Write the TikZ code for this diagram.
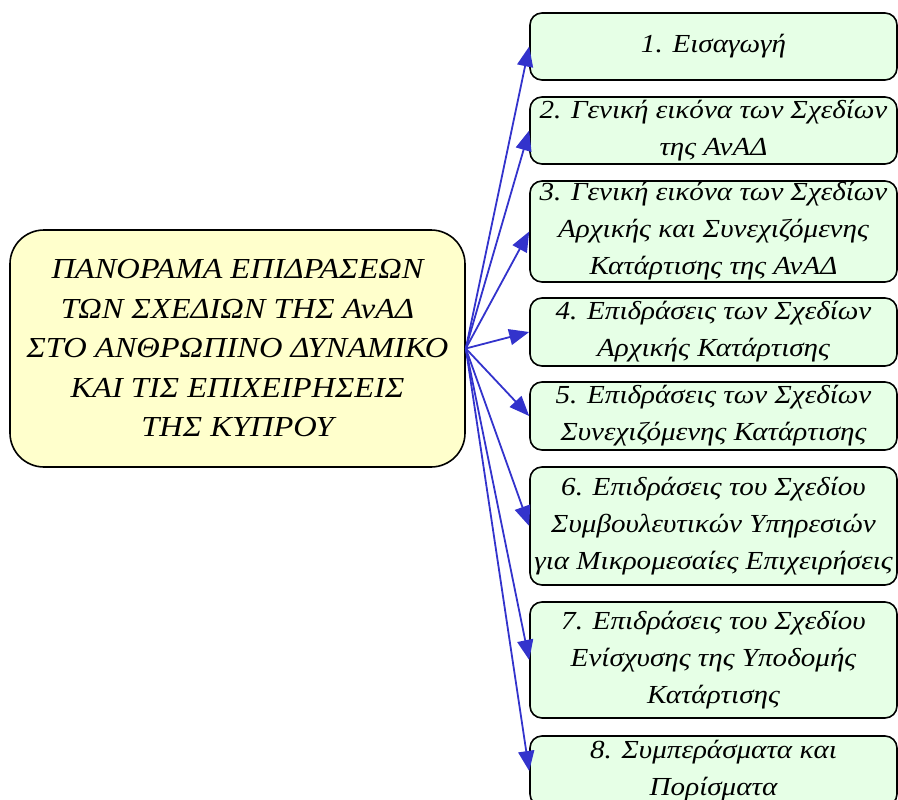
\documentclass[tikz,border=0pt]{standalone}
\usepackage{fontspec}
\setmainfont{Liberation Serif}
\newfontfamily\widefont[FakeStretch=1.12]{Liberation Serif}
\usetikzlibrary{arrows.meta}
\definecolor{centerfill}{HTML}{FFFFCC}
\definecolor{boxfill}{HTML}{E6FFE6}
\definecolor{arrblue}{HTML}{3333CC}
\begin{document}
\begin{tikzpicture}[x=1pt,y=-1pt,
  centerbox/.style={draw=black, line width=1.6pt, fill=centerfill, rounded corners=34pt,
    minimum width=455pt, minimum height=237pt, inner sep=0pt, align=center,
    font=\widefont\fontsize{29}{39.5}\selectfont\itshape},
  topicbox/.style={draw=black, line width=1.6pt, fill=boxfill, rounded corners=12pt,
    minimum width=367pt, inner sep=0pt, align=center,
    font=\widefont\fontsize{26}{37}\selectfont\itshape},
  link/.style={draw=arrblue, line width=1.8pt, -{Triangle[length=20pt,width=16pt]}}
]
\useasboundingbox (0,0) rectangle (898,800);
\clip (0,0) rectangle (898,800);
\node[centerbox] (c) at (237.5,348.5) {ΠΑΝΟΡΑΜΑ ΕΠΙΔΡΑΣΕΩΝ\\ΤΩΝ ΣΧΕΔΙΩΝ ΤΗΣ ΑνΑΔ\\ΣΤΟ ΑΝΘΡΩΠΙΝΟ ΔΥΝΑΜΙΚΟ\\ΚΑΙ ΤΙΣ ΕΠΙΧΕΙΡΗΣΕΙΣ\\ΤΗΣ ΚΥΠΡΟΥ};
\node[topicbox, minimum height=67pt] (b1) at (713.5,46.5) {1. Εισαγωγή};
\node[topicbox, minimum height=67pt] (b2) at (713.5,130.5) {2. Γενική εικόνα των Σχεδίων\\της ΑνΑΔ};
\node[topicbox, minimum height=101pt] (b3) at (713.5,231.5) {3. Γενική εικόνα των Σχεδίων\\Αρχικής και Συνεχιζόμενης\\Κατάρτισης της ΑνΑΔ};
\node[topicbox, minimum height=68pt] (b4) at (713.5,332) {4. Επιδράσεις των Σχεδίων\\Αρχικής Κατάρτισης};
\node[topicbox, minimum height=68pt] (b5) at (713.5,416) {5. Επιδράσεις των Σχεδίων\\Συνεχιζόμενης Κατάρτισης};
\node[topicbox, minimum height=118pt] (b6) at (713.5,526) {6. Επιδράσεις του Σχεδίου\\Συμβουλευτικών Υπηρεσιών\\για Μικρομεσαίες Επιχειρήσεις};
\node[topicbox, minimum height=116pt] (b7) at (713.5,660) {7. Επιδράσεις του Σχεδίου\\Ενίσχυσης της Υποδομής\\Κατάρτισης};
\node[topicbox, minimum height=70pt] (b8) at (713.5,771) {8. Συμπεράσματα και\\Πορίσματα};
\foreach \b in {b1,b2,b3,b4,b5,b6,b7,b8}
  \draw[link] (c.east) -- (\b.west);
\end{tikzpicture}
\end{document}
